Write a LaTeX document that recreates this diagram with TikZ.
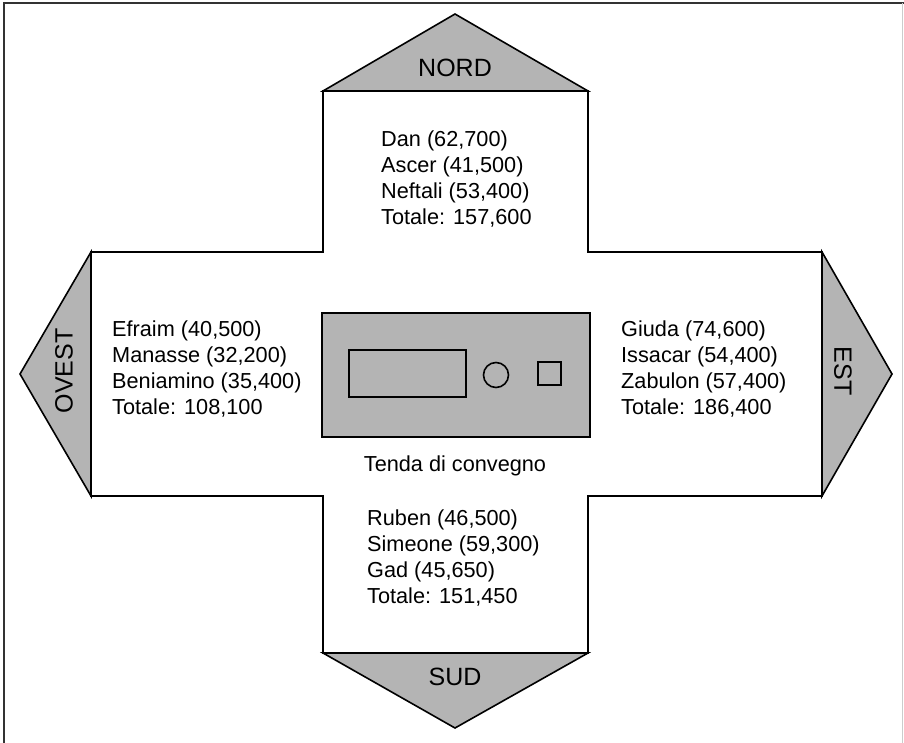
\documentclass[tikz,border=0pt]{standalone}
\usepackage{fontspec}
\setmainfont{Liberation Sans}
\definecolor{fillgray}{RGB}{180,180,180}
\begin{document}
\begin{tikzpicture}[x=1pt,y=-1pt,
  outline/.style={draw=black,line width=1.6pt,line join=miter},
  arrowhead/.style={outline,fill=fillgray},
  listtext/.style={anchor=north west,inner sep=0pt,align=left,font=\fontsize{21.7}{25.8}\selectfont},
  dirlabel/.style={inner sep=0pt,font=\fontsize{25}{30}\selectfont},
  captiontext/.style={inner sep=0pt,font=\fontsize{21.7}{26}\selectfont}]
\useasboundingbox (0,0) rectangle (904,743);
% frame
\draw[line width=2.4pt,black!80] (4,743) -- (4,3) -- (904,3);
\draw[line width=1pt,black!20] (902,3) -- (902,743);
% cross
\draw[outline,fill=white] (323,91) -- (588,91) -- (588,252) -- (822,252) -- (822,496)
  -- (588,496) -- (588,653) -- (323,653) -- (323,496) -- (91,496) -- (91,252) -- (323,252) -- cycle;
% direction triangles
\draw[arrowhead] (323,91) -- (455,14) -- (588,91) -- cycle;
\draw[arrowhead] (91,252) -- (20,374) -- (91,496) -- cycle;
\draw[arrowhead] (822,252) -- (892,374) -- (822,496) -- cycle;
\draw[arrowhead] (323,653) -- (455,728) -- (588,653) -- cycle;
\node[dirlabel] (nord) at (455,68) {NORD};
\node[dirlabel,rotate=90] (ovest) at (64,371) {OVEST};
\node[dirlabel,rotate=-90] (est) at (843,371) {EST};
\node[dirlabel] (sud) at (455,677) {SUD};
% tent
\draw[outline,fill=fillgray] (322,313) rectangle (590,437);
\draw[outline] (349,350) rectangle (466,397);
\draw[outline] (496,375) circle (12.5);
\draw[outline] (538,362) rectangle (561,385);
\node[captiontext] (tenda) at (455,466) {Tenda di convegno};
% tribe lists
\node[listtext] (nlist) at (381,131) {Dan (62,700)\\Ascer (41,500)\\Neftali (53,400)\\Totale: 157,600};
\node[listtext] (wlist) at (112,321) {Efraim (40,500)\\Manasse (32,200)\\Beniamino (35,400)\\Totale: 108,100};
\node[listtext] (elist) at (621,321) {Giuda (74,600)\\Issacar (54,400)\\Zabulon (57,400)\\Totale: 186,400};
\node[listtext] (slist) at (367,510) {Ruben (46,500)\\Simeone (59,300)\\Gad (45,650)\\Totale: 151,450};
\end{tikzpicture}
\end{document}
